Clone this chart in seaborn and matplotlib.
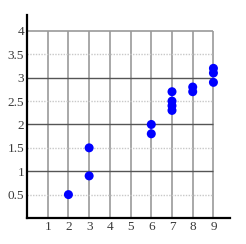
import matplotlib
matplotlib.use("Agg")
import matplotlib.pyplot as plt
import seaborn as sns
import pandas as pd

x_vals = [2, 3, 3, 6, 6, 7, 7, 7, 7, 8, 8, 9, 9, 9]
y_vals = [0.5, 0.9, 1.5, 1.8, 2.0, 2.3, 2.4, 2.5, 2.7, 2.7, 2.8, 2.9, 3.1, 3.2]
x_ticks = [1, 2, 3, 4, 5, 6, 7, 8, 9]
y_ticks = [0.5, 1, 1.5, 2, 2.5, 3, 3.5, 4]
y_tick_labels = ["0.5", "1", "1.5", "2", "2.5", "3", "3.5", "4"]

sns.set_style("white")
plt.rcParams['font.family'] = ['Liberation Serif', 'DejaVu Serif']

fig = plt.figure(figsize=(2.46, 2.44), dpi=100)
ax = fig.add_axes([27/246, 26/244, 203/246, 203/244])

df = pd.DataFrame({"x": x_vals, "y": y_vals})

ax.set_xlim(0, 9.8)
ax.set_ylim(0, 4.34)

# grid limited to plotting region
ax.vlines(x_ticks, 0, max(y_ticks), colors="#9a9a9a", linewidth=1.2, zorder=1)
for yv in y_ticks:
    if yv == max(y_ticks):
        ax.hlines(yv, 0, max(x_ticks), colors="#9a9a9a", linewidth=1.2, zorder=1)
    elif float(yv).is_integer():
        ax.hlines(yv, 0, max(x_ticks), colors="#555555", linewidth=1.0, zorder=1)
    else:
        ax.hlines(yv, 0, max(x_ticks), colors="#c8c8c8", linewidth=1.0,
                  linestyles=(0, (1, 1)), zorder=1)

sns.scatterplot(data=df, x="x", y="y", ax=ax, color="#0000ff", s=42,
                edgecolor="none", zorder=3)

ax.set_xticks(x_ticks)
ax.set_xticklabels([str(t) for t in x_ticks])
ax.set_yticks(y_ticks)
ax.set_yticklabels(y_tick_labels)
ax.tick_params(axis="both", length=0, labelsize=9.5, colors="#3a3a3a", pad=2)
ax.set_xlabel("")
ax.set_ylabel("")

for s in ["top", "right"]:
    ax.spines[s].set_visible(False)
for s in ["left", "bottom"]:
    ax.spines[s].set_visible(True)
    ax.spines[s].set_color("black")
    ax.spines[s].set_linewidth(1.6)
ax.grid(False)

fig.savefig("out.png", dpi=100)
